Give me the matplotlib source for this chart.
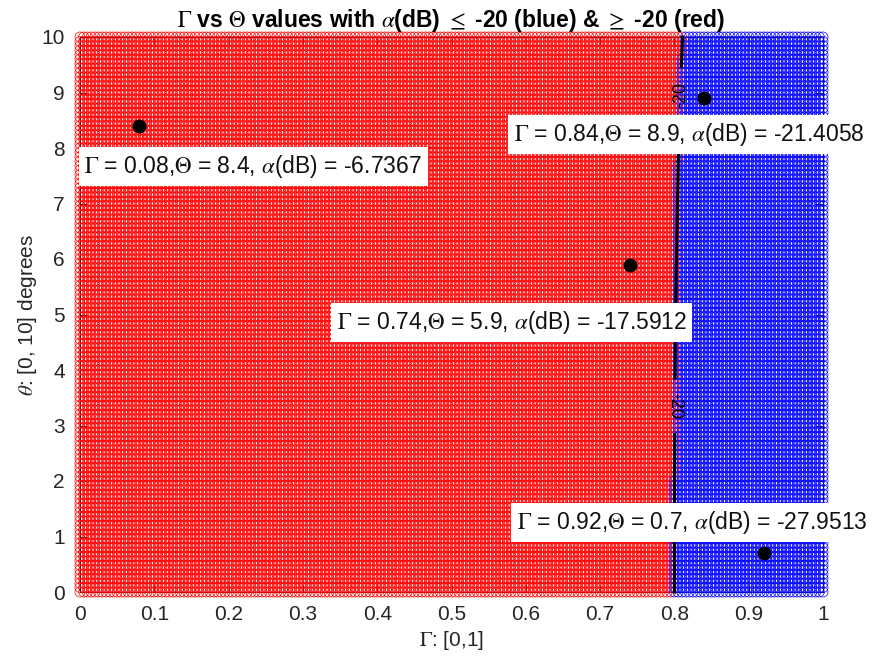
import numpy as np
import matplotlib
matplotlib.use("Agg")
import matplotlib.pyplot as plt

plt.rcParams['font.family'] = ['Liberation Sans', 'DejaVu Sans']
plt.rcParams['mathtext.fontset'] = 'stix'

# grid of sampled values
gamma_step = 0.005
theta_step = 0.08
# alpha(dB) = -20 contour (boundary between red and blue)
contour_theta = [0.0, 2.0, 4.0, 5.5, 7.7, 9.0, 10.0]
contour_gamma = [0.800, 0.800, 0.801, 0.802, 0.805, 0.808, 0.811]
contour_level = -20

# highlighted points
pt_gamma = [0.08, 0.74, 0.84, 0.92]
pt_theta = [8.4, 5.9, 8.9, 0.7]
pt_alpha = [-6.7367, -17.5912, -21.4058, -27.9513]
# label box centres (data coords)
lab_x = [0.233, 0.581, 0.820, 0.824]
lab_y = [7.667, 4.856, 8.243, 1.252]

G, T = np.meshgrid(np.arange(0, 1 + 1e-9, gamma_step), np.arange(0, 10 + 1e-9, theta_step))
bound = np.interp(T, contour_theta, contour_gamma)
blue = G >= bound

W, H = 885, 660
fig = plt.figure(figsize=(W / 100, H / 100), dpi=100)
ax = fig.add_axes([80 / W, (H - 592) / H, 743 / W, 555 / H])

ax.scatter(G[~blue], T[~blue], s=52, facecolors='none', edgecolors=(1, 0, 0), linewidths=0.5, clip_on=False, zorder=2)
ax.scatter(G[blue], T[blue], s=52, facecolors='none', edgecolors=(0, 0, 1), linewidths=0.5, clip_on=False, zorder=2)

# contour line with label gaps
ct = np.linspace(0, 10, 400)
cg = np.interp(ct, contour_theta, contour_gamma)
gaps = [(8.45, 9.45), (2.85, 3.85)]
mask = np.ones_like(ct, dtype=bool)
for a, b in gaps:
    mask &= ~((ct > a) & (ct < b))
cg_m = np.where(mask, cg, np.nan)
ax.plot(cg_m, ct, color='black', lw=2.2, zorder=3, clip_on=False)
ax.text(np.interp(8.95, contour_theta, contour_gamma), 8.95, str(contour_level), rotation=90,
        ha='center', va='center', fontsize=13, color='black', zorder=4)
ax.text(np.interp(3.35, contour_theta, contour_gamma), 3.35, str(contour_level), rotation=-90,
        ha='center', va='center', fontsize=13, color='black', zorder=4)

ax.plot(pt_gamma, pt_theta, 'o', color='black', ms=9, zorder=5)
for g, t, a, lx, ly in zip(pt_gamma, pt_theta, pt_alpha, lab_x, lab_y):
    s = r"$\Gamma$ = %g,$\Theta$ = %g, $\alpha$(dB) = %.4f" % (g, t, a)
    ax.text(lx, ly, s, ha='center', va='center', fontsize=16.5, color='#111111', zorder=6,
            bbox=dict(boxstyle='square,pad=0.25', fc='white', ec='none'))

ax.set_xlim(0, 1)
ax.set_ylim(0, 10)
ax.set_xticks(np.arange(0, 1.01, 0.1))
ax.set_xticklabels(['0', '0.1', '0.2', '0.3', '0.4', '0.5', '0.6', '0.7', '0.8', '0.9', '1'])
ax.set_yticks(np.arange(0, 11, 1))
ax.tick_params(direction='in', length=5, labelsize=15, colors='#262626', top=True, right=True,
               labeltop=False, labelright=False)
ax.tick_params(axis='y', pad=11)
ax.tick_params(axis='x', pad=9)
for sp in ax.spines.values():
    sp.set_color('#262626')
    sp.set_linewidth(0.8)
    sp.set_zorder(1)
ax.set_xlabel(r"$\Gamma$: [0,1]", fontsize=15, color='#262626', labelpad=4)
ax.set_ylabel(r"$\theta$: [0, 10] degrees", fontsize=15, color='#262626', labelpad=2)
ax.set_title(r"$\Gamma$ vs $\Theta$ values with $\alpha$(dB) $\leq$ -20 (blue) & $\geq$ -20 (red)",
             fontsize=16.5, fontweight='bold', pad=7)

fig.savefig('out.png', dpi=100)
